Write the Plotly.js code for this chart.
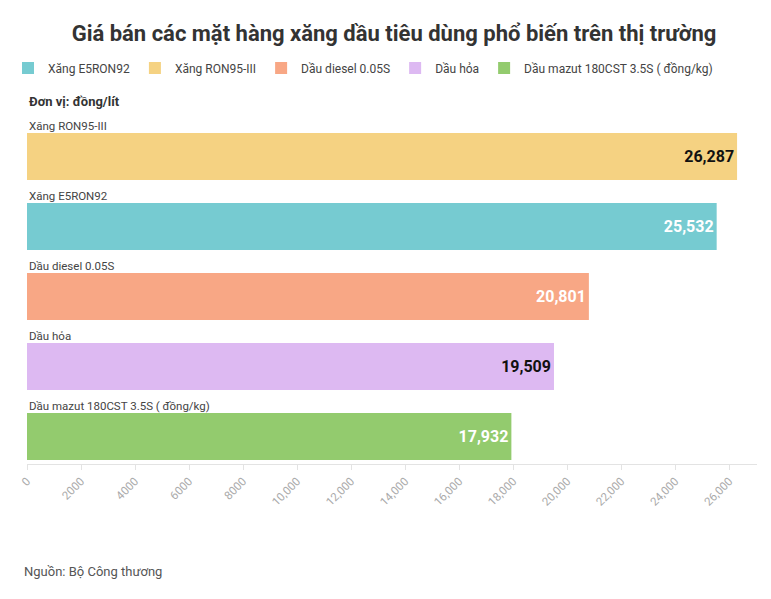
<!DOCTYPE html>
<html>
<head>
<meta charset="utf-8">
<script src="https://cdn.plot.ly/plotly-3.0.1.min.js"></script>
<style>
  body { margin: 0; background: #fff; }
  #graph { width: 771px; height: 599px; }
</style>
</head>
<body>
<div id="graph"></div>
<script>
// data, legend order
var names = ['Xăng E5RON92', 'Xăng RON95-III', 'Dầu diesel 0.05S', 'Dầu hỏa', 'Dầu mazut 180CST 3.5S ( đồng/kg)']
var prices = [25532, 26287, 20801, 19509, 17932]
var colors = ['#76cbd1', '#f5d282', '#f8a785', '#ddb9f2', '#93cb6e']
var labelColors = ['#ffffff', '#111111', '#ffffff', '#111111', '#ffffff']
// bottom to top
var barOrder = ['Dầu mazut 180CST 3.5S ( đồng/kg)', 'Dầu hỏa', 'Dầu diesel 0.05S', 'Xăng E5RON92', 'Xăng RON95-III']
// x ticks as the source shows them
var tickVals = [0, 2000, 4000, 6000, 8000, 10000, 12000, 14000, 16000, 18000, 20000, 22000, 24000, 26000]
var tickText = ['0', '2000', '4000', '6000', '8000', '10,000', '12,000', '14,000', '16,000', '18,000', '20,000', '22,000', '24,000', '26,000']

var font_main = 'Roboto, "Noto Sans", sans-serif'

var traces = []
for (var i = 0; i < names.length; i++) {
  traces.push({
    type: 'bar',
    orientation: 'h',
    name: names[i],
    x: [prices[i]],
    y: [names[i]],
    width: 0.671,
    marker: {color: colors[i]},
    texttemplate: '%{x:,}',
    textposition: 'inside',
    insidetextanchor: 'end',
    textfont: {family: font_main, size: 16, color: labelColors[i], weight: 'bold'},
    hoverinfo: 'x+name'
  })
}

// plot box in pixels: x 26.5..757, y 118..464
var plotTop = 118, plotBottom = 464, plotLeft = 26.5, plotW = 730.5
function py(px) { return (plotBottom - px) / (plotBottom - plotTop) }
function pxx(px) { return (px - plotLeft) / plotW }

// category names sitting above each bar
var annots = barOrder.map(function(n) {
  return {
    text: n, xref: 'paper', x: 0, xanchor: 'left',
    yref: 'y', y: n, yanchor: 'middle', yshift: 30.5,
    showarrow: false, font: {family: font_main, size: 11.5, color: '#444'}
  }
})
annots.push({
  text: '<b>Đơn vị: đồng/lít</b>', xref: 'paper', x: pxx(26), xanchor: 'left',
  yref: 'paper', y: py(101), yanchor: 'middle',
  showarrow: false, font: {family: font_main, size: 13, color: '#333'}
})
annots.push({
  text: 'Nguồn: Bộ Công thương', xref: 'paper', x: pxx(21), xanchor: 'left',
  yref: 'paper', y: py(571), yanchor: 'middle',
  showarrow: false, font: {family: font_main, size: 13, color: '#555'}
})

var layout = {
  width: 771,
  height: 599,
  margin: {l: 26.5, r: 14, t: 118, b: 135},
  paper_bgcolor: '#fff',
  plot_bgcolor: '#fff',
  barmode: 'overlay',
  title: {
    text: '<b>Giá bán các mặt hàng xăng dầu tiêu dùng phổ biến trên thị trường</b>',
    font: {family: font_main, size: 22, color: '#333'},
    x: 394 / 771, xanchor: 'center',
    yref: 'container', y: 1 - 33 / 599, yanchor: 'middle'
  },
  showlegend: true,
  legend: {
    orientation: 'h',
    xref: 'container', x: 8 / 771, xanchor: 'left',
    yref: 'container', y: 1 - 68 / 599, yanchor: 'middle',
    traceorder: 'normal',
    itemwidth: 30,
    tracegroupgap: 0,
    font: {family: font_main, size: 12, color: '#444'}
  },
  xaxis: {
    range: [0, 27025],
    tickmode: 'array',
    tickvals: tickVals,
    ticktext: tickText,
    showgrid: false,
    zeroline: false,
    showline: true,
    linecolor: '#e3e3e3',
    ticks: 'outside',
    ticklen: 5,
    tickcolor: '#e3e3e3',
    tickangle: -45,
    tickfont: {family: font_main, size: 11.5, color: '#aaa'}
  },
  yaxis: {
    type: 'category',
    categoryorder: 'array',
    categoryarray: barOrder,
    range: [-0.393, 4.55],
    showticklabels: false,
    showgrid: false,
    zeroline: false,
    showline: false,
    ticks: ''
  },
  annotations: annots
}

Plotly.newPlot('graph', traces, layout, {displayModeBar: false})
</script>
</body>
</html>
